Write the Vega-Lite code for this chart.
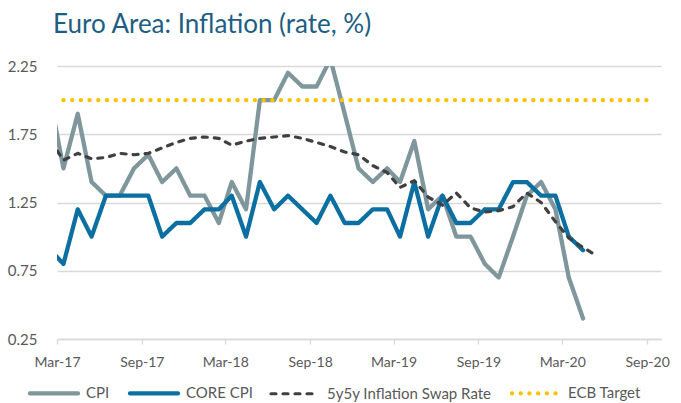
{
  "$schema": "https://vega.github.io/schema/vega-lite/v6.json",
  "width": 604,
  "height": 273,
  "autosize": {"type": "none"},
  "padding": {"left": 57, "top": 66, "right": 20, "bottom": 64},
  "background": "white",
  "title": {"text": "Euro Area: Inflation (rate, %)", "anchor": "start", "frame": "group", "fontSize": 26, "font": "Lato", "fontWeight": 400, "color": "#1d5e84", "offset": 21, "dx": -4},
  "config": {"view": {"stroke": null}, "font": "Lato"},
  "data": {"values": [
    {"series": "CPI", "date": "2017-02-15", "value": 2.0}, {"series": "CPI", "date": "2017-03-15", "value": 1.5}, {"series": "CPI", "date": "2017-04-15", "value": 1.9}, {"series": "CPI", "date": "2017-05-15", "value": 1.4},
    {"series": "CPI", "date": "2017-06-15", "value": 1.3}, {"series": "CPI", "date": "2017-07-15", "value": 1.3}, {"series": "CPI", "date": "2017-08-15", "value": 1.5}, {"series": "CPI", "date": "2017-09-15", "value": 1.6},
    {"series": "CPI", "date": "2017-10-15", "value": 1.4}, {"series": "CPI", "date": "2017-11-15", "value": 1.5}, {"series": "CPI", "date": "2017-12-15", "value": 1.3}, {"series": "CPI", "date": "2018-01-15", "value": 1.3},
    {"series": "CPI", "date": "2018-02-15", "value": 1.1}, {"series": "CPI", "date": "2018-03-15", "value": 1.4}, {"series": "CPI", "date": "2018-04-15", "value": 1.2}, {"series": "CPI", "date": "2018-05-15", "value": 2.0},
    {"series": "CPI", "date": "2018-06-15", "value": 2.0}, {"series": "CPI", "date": "2018-07-15", "value": 2.2}, {"series": "CPI", "date": "2018-08-15", "value": 2.1}, {"series": "CPI", "date": "2018-09-15", "value": 2.1},
    {"series": "CPI", "date": "2018-10-15", "value": 2.3}, {"series": "CPI", "date": "2018-11-15", "value": 1.9}, {"series": "CPI", "date": "2018-12-15", "value": 1.5}, {"series": "CPI", "date": "2019-01-15", "value": 1.4},
    {"series": "CPI", "date": "2019-02-15", "value": 1.5}, {"series": "CPI", "date": "2019-03-15", "value": 1.4}, {"series": "CPI", "date": "2019-04-15", "value": 1.7}, {"series": "CPI", "date": "2019-05-15", "value": 1.2},
    {"series": "CPI", "date": "2019-06-15", "value": 1.3}, {"series": "CPI", "date": "2019-07-15", "value": 1.0}, {"series": "CPI", "date": "2019-08-15", "value": 1.0}, {"series": "CPI", "date": "2019-09-15", "value": 0.8},
    {"series": "CPI", "date": "2019-10-15", "value": 0.7}, {"series": "CPI", "date": "2019-11-15", "value": 1.0}, {"series": "CPI", "date": "2019-12-15", "value": 1.3}, {"series": "CPI", "date": "2020-01-15", "value": 1.4},
    {"series": "CPI", "date": "2020-02-15", "value": 1.2}, {"series": "CPI", "date": "2020-03-15", "value": 0.7}, {"series": "CPI", "date": "2020-04-15", "value": 0.4},

    {"series": "CORE CPI", "date": "2017-02-15", "value": 0.9}, {"series": "CORE CPI", "date": "2017-03-15", "value": 0.8}, {"series": "CORE CPI", "date": "2017-04-15", "value": 1.2}, {"series": "CORE CPI", "date": "2017-05-15", "value": 1.0},
    {"series": "CORE CPI", "date": "2017-06-15", "value": 1.3}, {"series": "CORE CPI", "date": "2017-07-15", "value": 1.3}, {"series": "CORE CPI", "date": "2017-08-15", "value": 1.3}, {"series": "CORE CPI", "date": "2017-09-15", "value": 1.3},
    {"series": "CORE CPI", "date": "2017-10-15", "value": 1.0}, {"series": "CORE CPI", "date": "2017-11-15", "value": 1.1}, {"series": "CORE CPI", "date": "2017-12-15", "value": 1.1}, {"series": "CORE CPI", "date": "2018-01-15", "value": 1.2},
    {"series": "CORE CPI", "date": "2018-02-15", "value": 1.2}, {"series": "CORE CPI", "date": "2018-03-15", "value": 1.3}, {"series": "CORE CPI", "date": "2018-04-15", "value": 1.0}, {"series": "CORE CPI", "date": "2018-05-15", "value": 1.4},
    {"series": "CORE CPI", "date": "2018-06-15", "value": 1.2}, {"series": "CORE CPI", "date": "2018-07-15", "value": 1.3}, {"series": "CORE CPI", "date": "2018-08-15", "value": 1.2}, {"series": "CORE CPI", "date": "2018-09-15", "value": 1.1},
    {"series": "CORE CPI", "date": "2018-10-15", "value": 1.3}, {"series": "CORE CPI", "date": "2018-11-15", "value": 1.1}, {"series": "CORE CPI", "date": "2018-12-15", "value": 1.1}, {"series": "CORE CPI", "date": "2019-01-15", "value": 1.2},
    {"series": "CORE CPI", "date": "2019-02-15", "value": 1.2}, {"series": "CORE CPI", "date": "2019-03-15", "value": 1.0}, {"series": "CORE CPI", "date": "2019-04-15", "value": 1.4}, {"series": "CORE CPI", "date": "2019-05-15", "value": 1.0},
    {"series": "CORE CPI", "date": "2019-06-15", "value": 1.3}, {"series": "CORE CPI", "date": "2019-07-15", "value": 1.1}, {"series": "CORE CPI", "date": "2019-08-15", "value": 1.1}, {"series": "CORE CPI", "date": "2019-09-15", "value": 1.2},
    {"series": "CORE CPI", "date": "2019-10-15", "value": 1.2}, {"series": "CORE CPI", "date": "2019-11-15", "value": 1.4}, {"series": "CORE CPI", "date": "2019-12-15", "value": 1.4}, {"series": "CORE CPI", "date": "2020-01-15", "value": 1.3},
    {"series": "CORE CPI", "date": "2020-02-15", "value": 1.3}, {"series": "CORE CPI", "date": "2020-03-15", "value": 1.0}, {"series": "CORE CPI", "date": "2020-04-15", "value": 0.9},

    {"series": "5y5y Inflation Swap Rate", "date": "2017-02-15", "value": 1.70}, {"series": "5y5y Inflation Swap Rate", "date": "2017-03-15", "value": 1.56}, {"series": "5y5y Inflation Swap Rate", "date": "2017-04-15", "value": 1.61}, {"series": "5y5y Inflation Swap Rate", "date": "2017-05-15", "value": 1.57},
    {"series": "5y5y Inflation Swap Rate", "date": "2017-06-15", "value": 1.58}, {"series": "5y5y Inflation Swap Rate", "date": "2017-07-15", "value": 1.61}, {"series": "5y5y Inflation Swap Rate", "date": "2017-08-15", "value": 1.60}, {"series": "5y5y Inflation Swap Rate", "date": "2017-09-15", "value": 1.61},
    {"series": "5y5y Inflation Swap Rate", "date": "2017-10-15", "value": 1.65}, {"series": "5y5y Inflation Swap Rate", "date": "2017-11-15", "value": 1.69}, {"series": "5y5y Inflation Swap Rate", "date": "2017-12-15", "value": 1.72}, {"series": "5y5y Inflation Swap Rate", "date": "2018-01-15", "value": 1.73},
    {"series": "5y5y Inflation Swap Rate", "date": "2018-02-15", "value": 1.72}, {"series": "5y5y Inflation Swap Rate", "date": "2018-03-15", "value": 1.67}, {"series": "5y5y Inflation Swap Rate", "date": "2018-04-15", "value": 1.70}, {"series": "5y5y Inflation Swap Rate", "date": "2018-05-15", "value": 1.72},
    {"series": "5y5y Inflation Swap Rate", "date": "2018-06-15", "value": 1.73}, {"series": "5y5y Inflation Swap Rate", "date": "2018-07-15", "value": 1.74}, {"series": "5y5y Inflation Swap Rate", "date": "2018-08-15", "value": 1.72}, {"series": "5y5y Inflation Swap Rate", "date": "2018-09-15", "value": 1.69},
    {"series": "5y5y Inflation Swap Rate", "date": "2018-10-15", "value": 1.66}, {"series": "5y5y Inflation Swap Rate", "date": "2018-11-15", "value": 1.62}, {"series": "5y5y Inflation Swap Rate", "date": "2018-12-15", "value": 1.60}, {"series": "5y5y Inflation Swap Rate", "date": "2019-01-15", "value": 1.52},
    {"series": "5y5y Inflation Swap Rate", "date": "2019-02-15", "value": 1.47}, {"series": "5y5y Inflation Swap Rate", "date": "2019-03-15", "value": 1.36}, {"series": "5y5y Inflation Swap Rate", "date": "2019-04-15", "value": 1.41}, {"series": "5y5y Inflation Swap Rate", "date": "2019-05-15", "value": 1.29},
    {"series": "5y5y Inflation Swap Rate", "date": "2019-06-15", "value": 1.23}, {"series": "5y5y Inflation Swap Rate", "date": "2019-07-15", "value": 1.32}, {"series": "5y5y Inflation Swap Rate", "date": "2019-08-15", "value": 1.21}, {"series": "5y5y Inflation Swap Rate", "date": "2019-09-15", "value": 1.18},
    {"series": "5y5y Inflation Swap Rate", "date": "2019-10-15", "value": 1.19}, {"series": "5y5y Inflation Swap Rate", "date": "2019-11-15", "value": 1.22}, {"series": "5y5y Inflation Swap Rate", "date": "2019-12-15", "value": 1.32}, {"series": "5y5y Inflation Swap Rate", "date": "2020-01-15", "value": 1.25},
    {"series": "5y5y Inflation Swap Rate", "date": "2020-02-15", "value": 1.11}, {"series": "5y5y Inflation Swap Rate", "date": "2020-03-15", "value": 0.99}, {"series": "5y5y Inflation Swap Rate", "date": "2020-04-15", "value": 0.92}, {"series": "5y5y Inflation Swap Rate", "date": "2020-05-15", "value": 0.86},

    {"series": "ECB Target", "date": "2017-03-15", "value": 2.0}, {"series": "ECB Target", "date": "2020-09-15", "value": 2.0}
  ]},
  "encoding": {
    "x": {
      "field": "date", "type": "temporal",
      "scale": {"type": "utc", "domain": [{"year": 2017, "month": 3, "date": 1, "utc": true}, {"year": 2020, "month": 10, "date": 1, "utc": true}]},
      "axis": {
        "title": null,
        "values": [
          {"year": 2017, "month": 3, "date": 1, "utc": true}, {"year": 2017, "month": 9, "date": 1, "utc": true},
          {"year": 2018, "month": 3, "date": 1, "utc": true}, {"year": 2018, "month": 9, "date": 1, "utc": true},
          {"year": 2019, "month": 3, "date": 1, "utc": true}, {"year": 2019, "month": 9, "date": 1, "utc": true},
          {"year": 2020, "month": 3, "date": 1, "utc": true}, {"year": 2020, "month": 9, "date": 1, "utc": true}
        ],
        "labelExpr": "utcFormat(datum.value, '%b-%y')", "labelAlign": "center", "labelFlush": false, "labelOverlap": false,
        "grid": false, "labelFontSize": 14, "labelColor": "#595959", "labelFont": "Lato",
        "tickColor": "#d9d9d9", "tickSize": 5, "tickWidth": 1.3,
        "domainColor": "#d9d9d9", "domainWidth": 1.3, "labelPadding": 11
      }
    },
    "y": {
      "field": "value", "type": "quantitative",
      "scale": {"domain": [0.25, 2.25], "nice": false, "zero": false},
      "axis": {
        "title": null, "values": [0.25, 0.75, 1.25, 1.75, 2.25], "format": ".2f",
        "domain": false, "ticks": false, "tickSize": 0, "labelPadding": 20,
        "labelFontSize": 15, "labelColor": "#595959", "labelFont": "Lato",
        "gridColor": "#d9d9d9", "gridWidth": 1.3
      }
    },
    "color": {
      "field": "series", "type": "nominal",
      "scale": {"domain": ["CPI", "CORE CPI", "5y5y Inflation Swap Rate", "ECB Target"], "range": ["#7f979c", "#0b6fa1", "#404040", "#ffc000"]},
      "legend": {
        "orient": "none", "legendX": -27, "legendY": 319.5, "direction": "horizontal", "columns": 4,
        "title": null, "symbolType": "stroke", "symbolSize": 2304, "symbolStrokeWidth": 4.3,
        "symbolOffset": 16.5, "labelOffset": 24.5, "labelLimit": 300,
        "labelFontSize": 15, "labelFont": "Lato", "labelColor": "#595959", "columnPadding": 11,
        "encode": {"symbols": {"update": {"strokeCap": {"value": "round"}, "strokeWidth": {"signal": "datum.value === '5y5y Inflation Swap Rate' ? 3.2 : 4.3"}}}}
      }
    },
    "strokeDash": {
      "field": "series", "type": "nominal",
      "scale": {"domain": ["CPI", "CORE CPI", "5y5y Inflation Swap Rate", "ECB Target"], "range": [[1, 0], [1, 0], [5, 7], [0.1, 8.6]]}
    }
  },
  "layer": [
    {
      "transform": [{"filter": "datum.series !== '5y5y Inflation Swap Rate'"}],
      "mark": {"type": "line", "clip": true, "strokeCap": "round", "strokeJoin": "round", "strokeWidth": 4.3}
    },
    {
      "transform": [{"filter": "datum.series === '5y5y Inflation Swap Rate'"}],
      "mark": {"type": "line", "clip": true, "strokeCap": "round", "strokeJoin": "round", "strokeWidth": 3.2}
    }
  ]
}
